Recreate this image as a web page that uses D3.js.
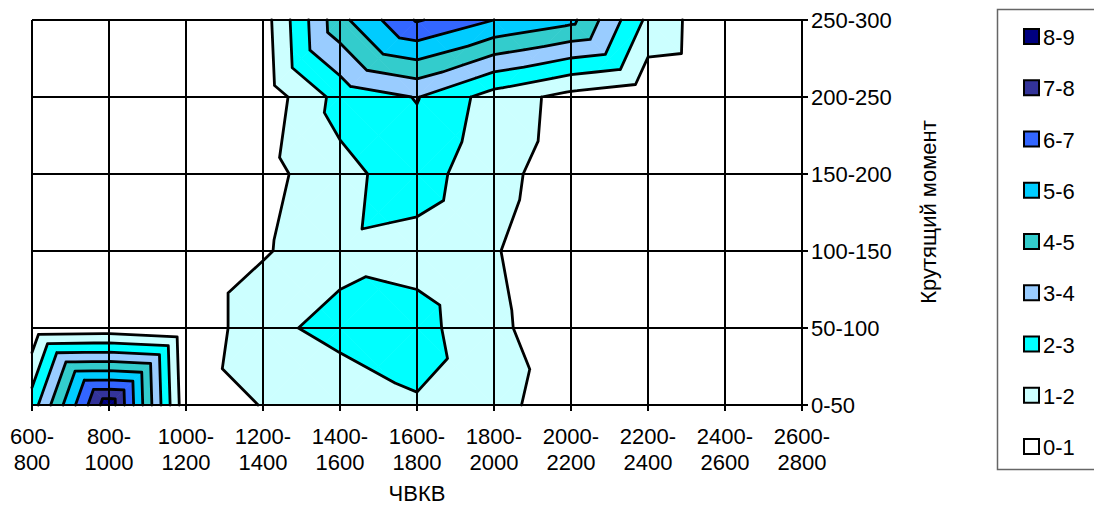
<!DOCTYPE html>
<html>
<head>
<meta charset="utf-8">
<script src="https://cdn.jsdelivr.net/npm/d3@7"></script>
<style>
  html, body { margin: 0; padding: 0; background: #fff; }
  svg { display: block; font-family: "Liberation Sans", Arial, sans-serif; }
</style>
</head>
<body>
<svg id="chart" width="1094" height="508"></svg>
<script>
// Engine speed bands (ЧВКВ) along the bottom axis
const speedBands = ["600-800", "800-1000", "1000-1200", "1200-1400", "1400-1600",
  "1600-1800", "1800-2000", "2000-2200", "2200-2400", "2400-2600", "2600-2800"];
// Torque bands (Крутящий момент) along the right axis, bottom to top
const torqueBands = ["0-50", "50-100", "100-150", "150-200", "200-250", "250-300"];

// Share of operating time per cell, one array per torque band
const torque0_50    = [2.5, 8.7, 0.26, 1.05, 1.58, 1.92, 1.39, 0.3, 0, 0, 0];
const torque50_100  = [0.3, 0.4, 0, 1.83, 2.2, 2.4, 1.15, 0.55, 0, 0, 0];
const torque100_150 = [0, 0, 0, 0.88, 1.8, 1.6, 1.05, 0.5, 0, 0, 0];
const torque150_200 = [0, 0, 0, 0.63, 1.72, 2.5, 1.25, 0.59, 0, 0, 0];
const torque200_250 = [0, 0, 0, 0.35, 2.35, 3.05, 1.55, 0.66, 0.17, 0, 0];
const torque250_300 = [0, 0, 0, 0.53, 4.7, 7.1, 6.0, 5.28, 1.77, 0.05, 0];

// Contour bands shown in the legend
const levelLabels = ["0-1", "1-2", "2-3", "3-4", "4-5", "5-6", "6-7", "7-8", "8-9"];
const levelColors = ["#FFFFFF", "#CCFFFF", "#00FFFF", "#99CCFF", "#33CCCC",
  "#00CCFF", "#3366FF", "#333399", "#000080"];

const grid = [torque0_50, torque50_100, torque100_150, torque150_200, torque200_250, torque250_300];

const svg = d3.select("#chart");
const plot = { left: 32, right: 802, top: 20, bottom: 405 };

const x = d3.scalePoint().domain(speedBands).range([plot.left, plot.right]);
const y = d3.scalePoint().domain(torqueBands).range([plot.bottom, plot.top]);
// fractional grid positions for interpolated contour vertices
const xi = d3.scaleLinear().domain([0, speedBands.length - 1]).range([plot.left, plot.right]);
const yi = d3.scaleLinear().domain([0, torqueBands.length - 1]).range([plot.bottom, plot.top]);
const levels = d3.range(1, levelLabels.length);

// Each grid cell is split into four triangles around its centre;
// the centre takes the larger of the two diagonal means.
const triangles = [];
for (let j = 0; j < torqueBands.length - 1; j++) {
  for (let i = 0; i < speedBands.length - 1; i++) {
    const a = { i: i, j: j + 1, v: grid[j + 1][i] };         // top-left
    const b = { i: i + 1, j: j + 1, v: grid[j + 1][i + 1] }; // top-right
    const c = { i: i + 1, j: j, v: grid[j][i + 1] };         // bottom-right
    const d = { i: i, j: j, v: grid[j][i] };                 // bottom-left
    const m = { i: i + 0.5, j: j + 0.5, v: Math.max((a.v + c.v) / 2, (b.v + d.v) / 2) };
    triangles.push([a, b, m], [b, c, m], [c, d, m], [d, a, m]);
  }
}

function lerp(p, q, t) {
  return { i: p.i + (q.i - p.i) * t, j: p.j + (q.j - p.j) * t, v: p.v + (q.v - p.v) * t };
}
// keep the part of a polygon where sign*(v - level) >= 0
function clip(poly, level, sign) {
  const out = [];
  for (let k = 0; k < poly.length; k++) {
    const p = poly[k], q = poly[(k + 1) % poly.length];
    const pin = sign * (p.v - level) >= 0, qin = sign * (q.v - level) >= 0;
    if (pin) out.push(p);
    if (pin !== qin) out.push(lerp(p, q, (level - p.v) / (q.v - p.v)));
  }
  return out;
}

const line = d3.line().x(p => xi(p.i)).y(p => yi(p.j));

// filled bands
const fills = svg.append("g");
triangles.forEach(tri => {
  levelLabels.forEach((lab, k) => {
    let poly = clip(tri, k, 1);
    if (poly.length < 3) return;
    poly = clip(poly, k + 1, -1);
    if (poly.length < 3) return;
    fills.append("path")
      .attr("d", line(poly) + "Z")
      .attr("fill", levelColors[k])
      .attr("stroke", levelColors[k])
      .attr("stroke-width", 0.6)
      .attr("stroke-linejoin", "round");
  });
});

// grid lines with tick stubs below and to the right
const gridG = svg.append("g").attr("stroke", "#000").attr("stroke-width", 2);
speedBands.forEach(s => {
  gridG.append("line").attr("x1", x(s)).attr("x2", x(s)).attr("y1", plot.top).attr("y2", plot.bottom + 6);
});
torqueBands.forEach(t => {
  gridG.append("line").attr("x1", plot.left).attr("x2", plot.right + 6).attr("y1", y(t)).attr("y2", y(t));
});

// contour lines
let contourPath = "";
triangles.forEach(tri => {
  levels.forEach(L => {
    const pts = [];
    for (let k = 0; k < 3; k++) {
      const p = tri[k], q = tri[(k + 1) % 3];
      const pa = p.v >= L, qa = q.v >= L;
      if (pa !== qa) pts.push(lerp(p, q, (L - p.v) / (q.v - p.v)));
    }
    if (pts.length === 2) contourPath += line(pts);
  });
});
svg.append("path")
  .attr("d", contourPath)
  .attr("fill", "none")
  .attr("stroke", "#000")
  .attr("stroke-width", 2.8)
  .attr("stroke-linecap", "round")
  .attr("stroke-linejoin", "round");

// bottom axis labels (two lines each)
const xLab = svg.append("g").attr("font-size", 22).attr("text-anchor", "middle").attr("fill", "#000");
speedBands.forEach(s => {
  const parts = s.split("-");
  const t = xLab.append("text").attr("x", x(s)).attr("y", 444);
  t.append("tspan").attr("x", x(s)).text(parts[0] + "-");
  t.append("tspan").attr("x", x(s)).attr("dy", 26).text(parts[1]);
});

// right axis labels
const yLab = svg.append("g").attr("font-size", 22).attr("fill", "#000");
torqueBands.forEach(t => {
  yLab.append("text").attr("x", plot.right + 9).attr("y", y(t) + 8).text(t);
});

// axis titles
svg.append("text").attr("x", (plot.left + plot.right) / 2).attr("y", 501)
  .attr("text-anchor", "middle").attr("font-size", 22).text("ЧВКВ");
svg.append("text")
  .attr("transform", "translate(936,212) rotate(-90)")
  .attr("text-anchor", "middle").attr("font-size", 22).text("Крутящий момент");

// legend
const legend = svg.append("g");
legend.append("rect").attr("x", 997.5).attr("y", 9.5).attr("width", 110).attr("height", 460)
  .attr("fill", "#fff").attr("stroke", "#666").attr("stroke-width", 1.5);
const legendOrder = levelLabels.map((l, k) => k).reverse();
legendOrder.forEach((k, n) => {
  const cy = 37 + n * 51.25;
  legend.append("rect").attr("x", 1024).attr("y", cy - 8).attr("width", 15).attr("height", 15)
    .attr("fill", levelColors[k]).attr("stroke", "#000").attr("stroke-width", 2);
  legend.append("text").attr("x", 1043).attr("y", cy + 8).attr("font-size", 22).text(levelLabels[k]);
});
</script>
</body>
</html>
